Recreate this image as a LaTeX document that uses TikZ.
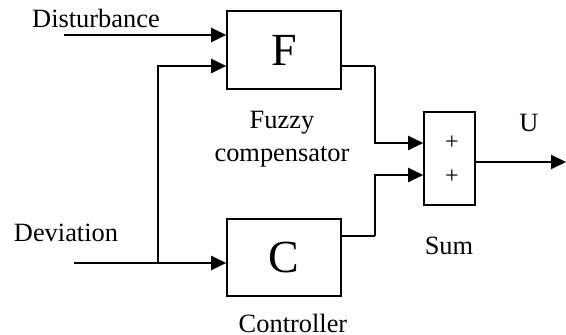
\documentclass[tikz,border=0pt]{standalone}
\usepackage{fontspec}
\setmainfont{Liberation Serif}
\usetikzlibrary{arrows.meta,positioning}
\tikzset{
  block/.style={draw,line width=0.8pt,inner sep=0pt},
  sig/.style={line width=1pt,-{Triangle[length=7.5pt,width=7pt]}},
  wire/.style={line width=1pt},
  lbl/.style={font=\fontsize{13.2}{16.5}\selectfont,align=center}
}
\begin{document}
\begin{tikzpicture}[x=0.5pt,y=-0.5pt]
  \useasboundingbox (0,0) rectangle (566,335);
  % blocks
  \node[block,minimum width=57pt,minimum height=39pt,font=\fontsize{23}{26}\selectfont] (F) at (284,50) {F};
  \node[block,minimum width=57pt,minimum height=38.5pt,font=\fontsize{23}{26}\selectfont] (C) at (284,257.5) {C};
  \node[block,minimum width=25.5pt,minimum height=46.5pt] (S) at (449.5,158.5) {};
  \node[font=\fontsize{12}{13}\selectfont] (p1) at (452,143) {+};
  \node[font=\fontsize{12}{13}\selectfont] (p2) at (452,177) {+};
  % signal points
  \coordinate (dist) at (64,35);
  \coordinate (dev) at (74,263);
  \coordinate (br) at (158,263);
  \coordinate (fo) at (375,66);
  \coordinate (co) at (375,236);
  \coordinate (uo) at (566,162);
  % connectors
  \draw[sig] (dist) -- (F.west |- dist);
  \draw[sig] (br) |- (F.west |- 0,66);
  \draw[sig] (dev) -- (C.west |- dev);
  \draw[wire] (F.east |- fo) -- (fo);
  \draw[sig] (fo) |- (S.west |- 0,143);
  \draw[wire] (C.east |- co) -- (co);
  \draw[sig] (co) |- (S.west |- 0,175);
  \draw[sig] (S.east |- uo) -- (uo);
  % labels
  \node[lbl] (ldist) at (96,18) {Disturbance};
  \node[lbl] (ldev) at (66,233) {Deviation};
  \node[lbl] (lfz) at (282,139) {Fuzzy\\compensator};
  \node[lbl] (lsum) at (449,246) {Sum};
  \node[lbl] (lctl) at (293,323) {Controller};
  \node[lbl] (lu) at (529,123) {U};
\end{tikzpicture}
\end{document}
